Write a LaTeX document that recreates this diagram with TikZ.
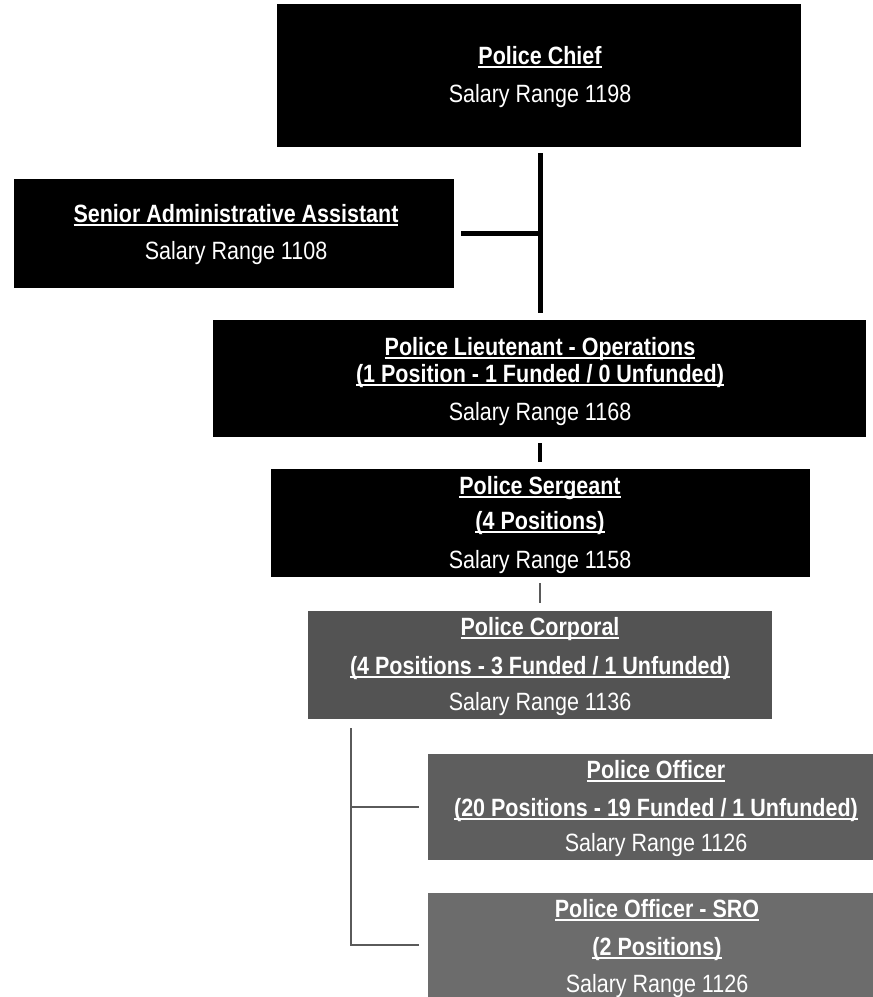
\documentclass[tikz,border=0pt]{standalone}
\usepackage{fontspec}
\setmainfont{Liberation Sans}[FakeStretch=0.86]
\newsavebox\ulbox
\newcommand\ulin[1]{\sbox\ulbox{#1}\rlap{\raisebox{-3.5pt}{\rule{\wd\ulbox}{1.3pt}}}\usebox\ulbox}
\definecolor{corpgray}{HTML}{535353}
\definecolor{offgray}{HTML}{5E5E5E}
\definecolor{srogray}{HTML}{6C6C6C}
\definecolor{linegray}{HTML}{5A5A5A}
\tikzset{
  orgbox/.style={rectangle, inner sep=0pt, draw=none},
  ttl/.style={anchor=base, text=white, inner sep=0pt, font=\fontsize{25}{29}\selectfont\bfseries},
  sal/.style={anchor=base, text=white, inner sep=0pt, font=\fontsize{25}{29}\selectfont},
  thickconn/.style={draw=black, line width=5pt},
  midconn/.style={draw=black, line width=3.5pt},
  thinconn/.style={draw=linegray, line width=2.5pt},
  treeconn/.style={draw=linegray, line width=1.5pt}
}
\begin{document}
\begin{tikzpicture}[x=1pt,y=-1pt]
\useasboundingbox (0,0) rectangle (873,997);
% boxes
\node[orgbox, fill=black, minimum width=524pt, minimum height=143pt] (chief) at (539,75.5) {};
\node[orgbox, fill=black, minimum width=440pt, minimum height=109pt] (admin) at (234,233.5) {};
\node[orgbox, fill=black, minimum width=653pt, minimum height=117pt] (lt) at (539.5,378.5) {};
\node[orgbox, fill=black, minimum width=539pt, minimum height=108pt] (sg) at (540.5,523) {};
\node[orgbox, fill=corpgray, minimum width=464pt, minimum height=108pt] (cp) at (540,665) {};
\node[orgbox, fill=offgray, minimum width=445pt, minimum height=106pt] (off) at (650.5,807) {};
\node[orgbox, fill=srogray, minimum width=445pt, minimum height=104pt] (sro) at (650.5,945) {};
% texts
\node[ttl] (chiefA) at (540,64) {\ulin{Police Chief}};
\node[sal] (chiefB) at (540,102) {Salary Range 1198};
\node[ttl] (adminA) at (236,222) {\ulin{Senior Administrative Assistant}};
\node[sal] (adminB) at (236,259) {Salary Range 1108};
\node[ttl] (ltA) at (540,355) {\ulin{Police Lieutenant - Operations}};
\node[ttl] (ltB) at (540,382) {\ulin{(1 Position - 1 Funded / 0 Unfunded)}};
\node[sal] (ltC) at (540,420) {Salary Range 1168};
\node[ttl] (sgA) at (540,494) {\ulin{Police Sergeant}};
\node[ttl] (sgB) at (540,529) {\ulin{(4 Positions)}};
\node[sal] (sgC) at (540,568) {Salary Range 1158};
\node[ttl] (cpA) at (540,635) {\ulin{Police Corporal}};
\node[ttl] (cpB) at (540,674) {\ulin{(4 Positions - 3 Funded / 1 Unfunded)}};
\node[sal] (cpC) at (540,710) {Salary Range 1136};
\node[ttl] (offA) at (656,778) {\ulin{Police Officer}};
\node[ttl] (offB) at (656,816) {\ulin{(20 Positions - 19 Funded / 1 Unfunded)}};
\node[sal] (offC) at (656,851) {Salary Range 1126};
\node[ttl] (sroA) at (657,917) {\ulin{Police Officer - SRO}};
\node[ttl] (sroB) at (657,955) {\ulin{(2 Positions)}};
\node[sal] (sroC) at (657,992) {Salary Range 1126};
% connectors
\coordinate (spine) at (540,147);
\draw[thickconn, shorten <=6pt, shorten >=7pt] (spine) -- (spine |- lt.north);
\draw[thickconn, shorten <=7pt] (admin.east) -- (admin.east -| spine);
\draw[midconn, shorten <=6pt, shorten >=7pt] (lt.south -| spine) -- (sg.north -| spine);
\draw[thinconn, shorten <=6pt, shorten >=8pt] (sg.south -| spine) -- (cp.north -| spine);
\coordinate (tree) at (351,728);
\draw[treeconn, shorten >=9pt] (tree) |- (off.west);
\draw[treeconn, shorten >=9pt] (tree) |- (sro.west);
\end{tikzpicture}
\end{document}
